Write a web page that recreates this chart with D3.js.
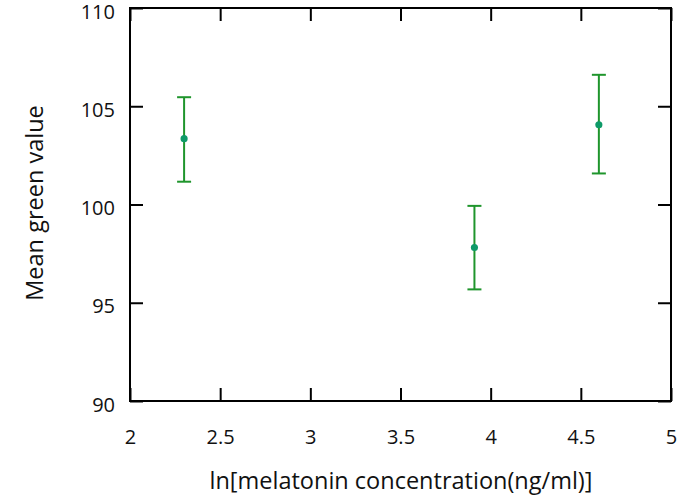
<!DOCTYPE html>
<html><head><meta charset="utf-8">
<script src="https://cdn.jsdelivr.net/npm/d3@7"></script>
<style>body{margin:0;background:#fff}svg{display:block}text{font-family:"Open Sans",sans-serif;fill:#111}</style>
</head><body><svg id="c" width="690" height="502"></svg>
<script>
const xVals = [2.30, 3.91, 4.60];
const meanVals = [103.35, 97.81, 104.06];
const upperVals = [105.46, 99.93, 106.60];
const lowerVals = [101.16, 95.68, 101.58];
const xTicks = [2, 2.5, 3, 3.5, 4, 4.5, 5];
const yTicks = [90, 95, 100, 105, 110];
const xTitle = "ln[melatonin concentration(ng/ml)]";
const yTitle = "Mean green value";

const svg = d3.select("#c");
const L = 130, R = 671, T = 8, B = 401;
const x = d3.scaleLinear().domain([2, 5]).range([L, R]);
const y = d3.scaleLinear().domain([90, 110]).range([B, T]);
const tk = 13;

svg.append("g").attr("transform", `translate(0,${B})`)
  .call(d3.axisBottom(x).tickValues(xTicks).tickSize(-tk).tickPadding(29).tickFormat(d3.format("")))
  .call(g => { g.select(".domain").remove(); g.selectAll("line").attr("stroke","#000").attr("stroke-width",2); g.selectAll("text").attr("font-size",20).attr("font-family","Open Sans").attr("fill","#111"); });
svg.append("g").attr("transform", `translate(0,${T})`)
  .call(d3.axisTop(x).tickValues(xTicks).tickSize(-tk).tickFormat(""))
  .call(g => { g.select(".domain").remove(); g.selectAll("line").attr("stroke","#000").attr("stroke-width",2); });
svg.append("g").attr("transform", `translate(${L},0)`)
  .call(d3.axisLeft(y).tickValues(yTicks).tickSize(-tk).tickPadding(15).tickFormat(d3.format("")))
  .call(g => { g.select(".domain").remove(); g.selectAll("line").attr("stroke","#000").attr("stroke-width",2); g.selectAll("text").attr("font-size",20).attr("font-family","Open Sans").attr("fill","#111").attr("dy","0.5em"); });
svg.append("g").attr("transform", `translate(${R},0)`)
  .call(d3.axisRight(y).tickValues(yTicks).tickSize(-tk).tickFormat(""))
  .call(g => { g.select(".domain").remove(); g.selectAll("line").attr("stroke","#000").attr("stroke-width",2); });

svg.append("rect").attr("x", L).attr("y", T).attr("width", R - L).attr("height", B - T)
  .attr("fill", "none").attr("stroke", "#000").attr("stroke-width", 2);

const data = xVals.map((v, i) => ({x: v, m: meanVals[i], hi: upperVals[i], lo: lowerVals[i]}));
const eg = svg.append("g").selectAll("g").data(data).join("g");
const green = "#1f952c", cap = 7;
eg.append("line").attr("x1", d => x(d.x)).attr("x2", d => x(d.x)).attr("y1", d => y(d.hi)).attr("y2", d => y(d.lo)).attr("stroke", green).attr("stroke-width", 2);
eg.append("line").attr("x1", d => x(d.x) - cap).attr("x2", d => x(d.x) + cap).attr("y1", d => y(d.hi)).attr("y2", d => y(d.hi)).attr("stroke", green).attr("stroke-width", 2);
eg.append("line").attr("x1", d => x(d.x) - cap).attr("x2", d => x(d.x) + cap).attr("y1", d => y(d.lo)).attr("y2", d => y(d.lo)).attr("stroke", green).attr("stroke-width", 2);
eg.append("path").attr("transform", d => `translate(${x(d.x)},${y(d.m)})`)
  .attr("d", d3.symbol(d3.symbolCircle, 40)).attr("fill", "#0e9a68");

svg.append("text").attr("x", 401).attr("y", 489).attr("text-anchor", "middle").attr("font-size", 23.5).text(xTitle);
svg.append("text").attr("transform", `translate(43,203) rotate(-90)`).attr("text-anchor", "middle").attr("font-size", 23.5).text(yTitle);
</script></body></html>
